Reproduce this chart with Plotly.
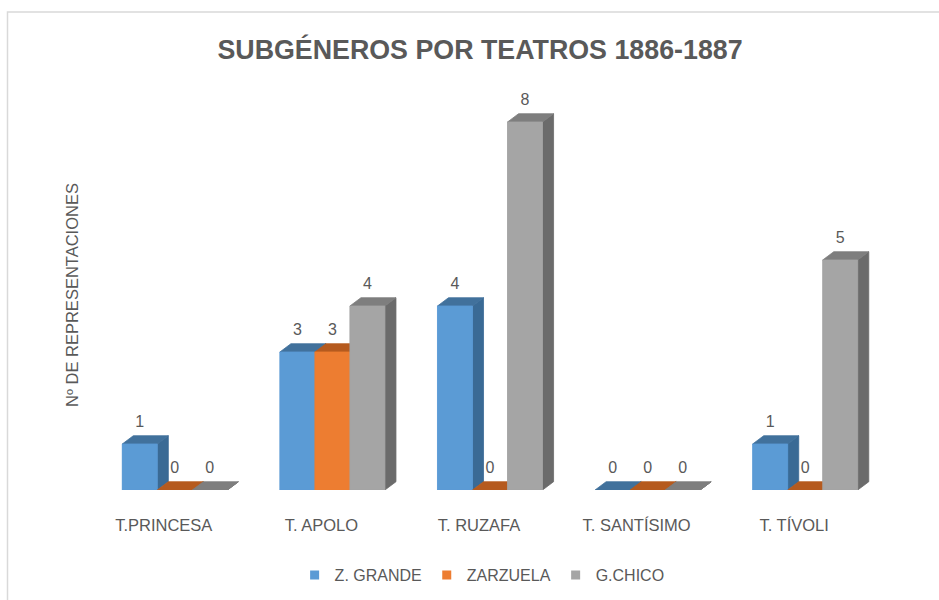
import plotly.graph_objects as go

categories = ["T.PRINCESA", "T. APOLO", "T. RUZAFA", "T. SANTÍSIMO", "T. TÍVOLI"]
series_names = ["Z. GRANDE", "ZARZUELA", "G.CHICO"]
z_grande = [1, 3, 4, 0, 1]
zarzuela = [0, 3, 0, 0, 0]
g_chico = [0, 4, 8, 0, 5]

values = [z_grande, zarzuela, g_chico]
front_colors = ["#5B9BD5", "#ED7D31", "#A5A5A5"]
top_colors = ["#41719C", "#B55A1E", "#7E7E7E"]
side_colors = ["#3A6A95", "#A9541C", "#6B6B6B"]

TEXT = "#595959"
FONT = "Liberation Sans"

n_series = 3
bargap = 1 / 3
bw = (1 - bargap) / n_series          # bar width in category units
dx = 0.07                             # depth offset (x, category units)
dy = 0.18                             # depth offset (y, value units)
label_shift = 0.07                    # category labels sit slightly left (perspective)

fig = go.Figure()

# base bars (front faces)
for s in range(n_series):
    fig.add_trace(go.Bar(
        x=list(range(len(categories))), y=values[s], name=series_names[s],
        marker=dict(color=front_colors[s], line=dict(width=0)),
        hoverinfo="skip", showlegend=False,
    ))

# 3D shading: per category, per series left-to-right so later faces overlap earlier ones
for c in range(len(categories)):
    for s in range(n_series):
        v = values[s][c]
        x0 = c - (1 - bargap) / 2 + s * bw
        x1 = x0 + bw
        faces = [
            ([x1, x1 + dx, x1 + dx, x1, x1], [0, dy, v + dy, v, 0], side_colors[s]),
            ([x0, x1, x1 + dx, x0 + dx, x0], [v, v, v + dy, v + dy, v], top_colors[s]),
            ([x0, x1, x1, x0, x0], [0, 0, v, v, 0], front_colors[s]),
        ]
        for fx, fy, col in faces:
            if fy == [0, 0, 0, 0, 0]:
                continue
            fig.add_trace(go.Scatter(
                x=fx, y=fy, mode="lines", fill="toself", fillcolor=col,
                line=dict(color=col, width=0.8), showlegend=False, hoverinfo="skip",
            ))

# data labels
for s in range(n_series):
    xs = [c - (1 - bargap) / 2 + s * bw + bw / 2 for c in range(len(categories))]
    ys = [v + dy + 0.1 for v in values[s]]
    fig.add_trace(go.Scatter(
        x=xs, y=ys, mode="text", text=[str(v) for v in values[s]],
        textposition="top center", textfont=dict(family=FONT, size=16, color=TEXT),
        showlegend=False, hoverinfo="skip",
    ))

# legend entries (small square keys)
for s in range(n_series):
    fig.add_trace(go.Scatter(
        x=[None], y=[None], mode="markers", name=series_names[s],
        marker=dict(symbol="square", size=9, color=front_colors[s]),
        showlegend=True,
    ))

fig.update_layout(
    width=939, height=600,
    margin=dict(l=96, r=55, t=76, b=110, autoexpand=False),
    paper_bgcolor="white", plot_bgcolor="white",
    barmode="group", bargap=bargap, bargroupgap=0,
    title=dict(text="<b>SUBGÉNEROS POR TEATROS 1886-1887</b>",
               font=dict(family=FONT, size=26.8, color=TEXT),
               x=480 / 939, xanchor="center", y=1 - 50 / 600, yanchor="middle"),
    font=dict(family=FONT, color=TEXT),
    showlegend=True,
    legend=dict(orientation="h", x=0.49, xanchor="center",
                yref="container", y=1 - 575 / 600, yanchor="middle",
                font=dict(family=FONT, size=16, color=TEXT), traceorder="normal",
                itemwidth=30),
    xaxis=dict(range=[-0.5, 4.5], tickmode="array", automargin=False,
               tickvals=[c - label_shift for c in range(len(categories))],
               ticktext=categories, showgrid=False, zeroline=False, showline=False,
               ticks="", tickfont=dict(family=FONT, size=16.5, color=TEXT),
               ticklabelstandoff=23),
    yaxis=dict(range=[0, 9], showgrid=False, zeroline=False, showline=False,
               showticklabels=False, ticks="", automargin=False),
    annotations=[dict(text="Nº DE REPRESENTACIONES", textangle=-90, showarrow=False,
                      xref="paper", yref="paper", x=(72 - 96) / 788, y=(490 - 295) / 414,
                      xanchor="center", yanchor="middle",
                      font=dict(family=FONT, size=16.5, color=TEXT))],
    shapes=[dict(type="rect", xref="paper", yref="paper",
                 x0=(7.5 - 96) / 788, x1=1.2, y0=-0.4, y1=(490 - 12) / 414,
                 line=dict(color="#D9D9D9", width=1.5), fillcolor="rgba(0,0,0,0)",
                 layer="below")],
)

fig.write_html("out.html", config={"displayModeBar": False},
               post_script="document.body.style.margin='0px';document.body.style.overflow='hidden';")
